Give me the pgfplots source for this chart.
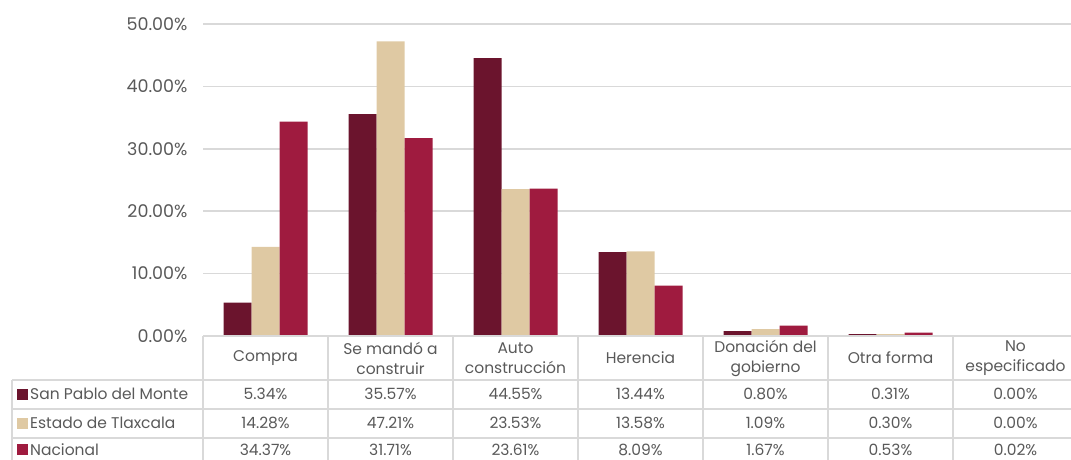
\documentclass[border=0pt]{standalone}
\usepackage{pgfplots}
\pgfplotsset{compat=1.18}
\usepackage{fontspec}
\setmainfont{Poppins}
\definecolor{spm}{HTML}{6B142D}
\definecolor{tlx}{HTML}{DFC9A3}
\definecolor{nac}{HTML}{9F1B3F}
\definecolor{txt}{HTML}{595959}
\definecolor{grd}{HTML}{D9D9D9}
\begin{document}
\begin{tikzpicture}[x=1pt, y=1pt, font=\fontsize{15.5}{20}\selectfont, text=txt]
\begin{axis}[
  at={(203pt,124pt)}, anchor=south west,
  scale only axis, width=875pt, height=312pt,
  xmin=-0.5, xmax=6.5, ymin=0, ymax=50,
  ybar=0pt, bar width=28pt,
  axis line style={draw=none},
  ytick={0,10,20,30,40,50},
  yticklabels={0.00\%,10.00\%,20.00\%,30.00\%,40.00\%,50.00\%},
  yticklabel style={font=\fontsize{17.5}{20}\selectfont, text=txt, xshift=-12pt},
  xtick=\empty,
  ymajorgrids, grid style={grd, line width=1.5pt},
  major tick length=0pt,
  clip=false,
]
\addplot[fill=spm, draw=none] coordinates {(0,5.34) (1,35.57) (2,44.55) (3,13.44) (4,0.80) (5,0.31) (6,0.00)};
\addplot[fill=tlx, draw=none] coordinates {(0,14.28) (1,47.21) (2,23.53) (3,13.58) (4,1.09) (5,0.30) (6,0.00)};
\addplot[fill=nac, draw=none] coordinates {(0,34.37) (1,31.71) (2,23.61) (3,8.09) (4,1.67) (5,0.53) (6,0.02)};
\end{axis}
% data table
\begin{scope}[draw=grd, line width=1.5pt]
  \draw (203,124) -- (1078,124);
  \draw (12,80) -- (1078,80);
  \draw (12,51) -- (1078,51);
  \draw (12,22) -- (1078,22);
  \draw (12,0) -- (12,80);
  \foreach \i in {0,...,7} \draw ({203+125*\i},0) -- ({203+125*\i},124);
\end{scope}
\foreach \lab [count=\i from 0] in {Compra,{Se mandó a\\construir},{Auto\\construcción},Herencia,{Donación del\\gobierno},Otra forma,{No\\especificado}}
  \node[align=center, text=txt] at ({265.5+125*\i},102) {\lab};
\foreach \v [count=\i from 0] in {5.34\%,35.57\%,44.55\%,13.44\%,0.80\%,0.31\%,0.00\%}
  \node[text=txt] at ({265.5+125*\i},66) {\v};
\foreach \v [count=\i from 0] in {14.28\%,47.21\%,23.53\%,13.58\%,1.09\%,0.30\%,0.00\%}
  \node[text=txt] at ({265.5+125*\i},37) {\v};
\foreach \v [count=\i from 0] in {34.37\%,31.71\%,23.61\%,8.09\%,1.67\%,0.53\%,0.02\%}
  \node[text=txt] at ({265.5+125*\i},10.5) {\v};
\fill[spm] (17,60) rectangle (28,71);
\node[anchor=west, text=txt, inner sep=0pt] at (30,66) {San Pablo del Monte};
\fill[tlx] (17,31) rectangle (28,42);
\node[anchor=west, text=txt, inner sep=0pt] at (30,37) {Estado de Tlaxcala};
\fill[nac] (17,4.5) rectangle (28,15.5);
\node[anchor=west, text=txt, inner sep=0pt] at (30,10.5) {Nacional};
\pgfresetboundingbox
\path[use as bounding box] (0,0) rectangle (1071,460);
\end{tikzpicture}
\end{document}
